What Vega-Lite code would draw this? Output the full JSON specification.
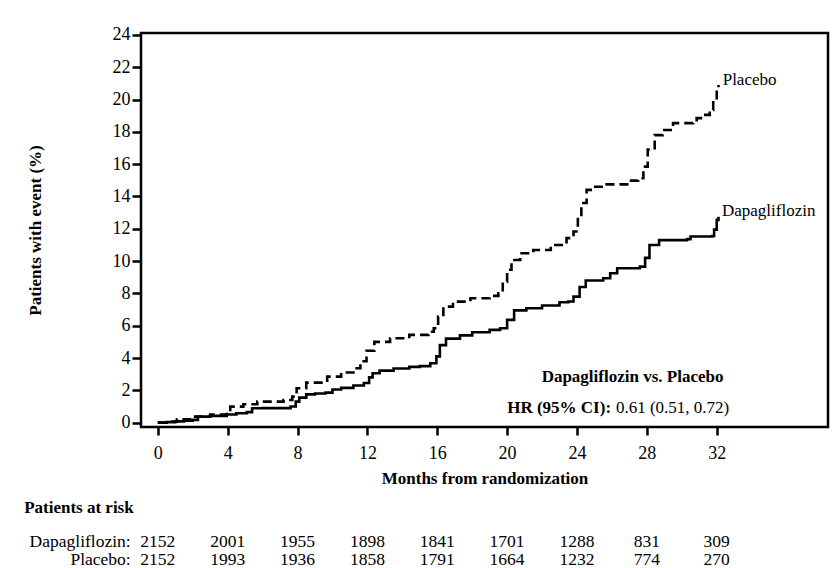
{
  "$schema": "https://vega.github.io/schema/vega-lite/v6.json",
  "width": 687,
  "height": 394,
  "autosize": {"type": "none"},
  "padding": {"left": 141, "top": 33, "right": 12, "bottom": 141},
  "background": "white",
  "config": {
    "view": {"stroke": "black", "strokeWidth": 2.5},
    "font": "Liberation Serif",
    "text": {"font": "Liberation Serif", "fontSize": 17, "color": "black"},
    "axis": {
      "grid": false, "domain": false, "tickColor": "black", "tickWidth": 2.5,
      "labelColor": "black", "labelFont": "Liberation Serif", "labelFontSize": 18, "labelOverlap": false,
      "titleFont": "Liberation Serif", "titleFontSize": 17, "titleColor": "black", "titleFontWeight": "bold"
    }
  },
  "datasets": {
    "curves": [
      {"group": "Dapagliflozin", "month": 0, "pct": 0},
      {"group": "Dapagliflozin", "month": 0.5, "pct": 0.03},
      {"group": "Dapagliflozin", "month": 1.0, "pct": 0.08},
      {"group": "Dapagliflozin", "month": 1.5, "pct": 0.12},
      {"group": "Dapagliflozin", "month": 2.0, "pct": 0.17},
      {"group": "Dapagliflozin", "month": 2.3, "pct": 0.37},
      {"group": "Dapagliflozin", "month": 3.0, "pct": 0.42},
      {"group": "Dapagliflozin", "month": 3.95, "pct": 0.5},
      {"group": "Dapagliflozin", "month": 4.5, "pct": 0.58},
      {"group": "Dapagliflozin", "month": 5.1, "pct": 0.65},
      {"group": "Dapagliflozin", "month": 5.4, "pct": 0.89},
      {"group": "Dapagliflozin", "month": 6.0, "pct": 0.9},
      {"group": "Dapagliflozin", "month": 7.0, "pct": 0.9},
      {"group": "Dapagliflozin", "month": 7.6, "pct": 1.0},
      {"group": "Dapagliflozin", "month": 7.9, "pct": 1.3},
      {"group": "Dapagliflozin", "month": 8.1, "pct": 1.55},
      {"group": "Dapagliflozin", "month": 8.5, "pct": 1.75},
      {"group": "Dapagliflozin", "month": 9.0, "pct": 1.8},
      {"group": "Dapagliflozin", "month": 9.6, "pct": 1.86},
      {"group": "Dapagliflozin", "month": 10.0, "pct": 2.05},
      {"group": "Dapagliflozin", "month": 10.5, "pct": 2.15},
      {"group": "Dapagliflozin", "month": 11.2, "pct": 2.3},
      {"group": "Dapagliflozin", "month": 11.8, "pct": 2.45},
      {"group": "Dapagliflozin", "month": 12.1, "pct": 2.8},
      {"group": "Dapagliflozin", "month": 12.3, "pct": 3.06},
      {"group": "Dapagliflozin", "month": 12.7, "pct": 3.22},
      {"group": "Dapagliflozin", "month": 13.5, "pct": 3.35},
      {"group": "Dapagliflozin", "month": 14.4, "pct": 3.45},
      {"group": "Dapagliflozin", "month": 15.0, "pct": 3.5},
      {"group": "Dapagliflozin", "month": 15.6, "pct": 3.68},
      {"group": "Dapagliflozin", "month": 15.95, "pct": 4.1},
      {"group": "Dapagliflozin", "month": 16.15, "pct": 4.8},
      {"group": "Dapagliflozin", "month": 16.5, "pct": 5.2},
      {"group": "Dapagliflozin", "month": 17.3, "pct": 5.4},
      {"group": "Dapagliflozin", "month": 18.0, "pct": 5.6},
      {"group": "Dapagliflozin", "month": 19.0, "pct": 5.74},
      {"group": "Dapagliflozin", "month": 19.6, "pct": 5.84},
      {"group": "Dapagliflozin", "month": 20.0, "pct": 6.36},
      {"group": "Dapagliflozin", "month": 20.4, "pct": 6.95},
      {"group": "Dapagliflozin", "month": 21.1, "pct": 7.08},
      {"group": "Dapagliflozin", "month": 22.0, "pct": 7.25},
      {"group": "Dapagliflozin", "month": 23.0, "pct": 7.45},
      {"group": "Dapagliflozin", "month": 23.5, "pct": 7.5},
      {"group": "Dapagliflozin", "month": 23.8, "pct": 7.8},
      {"group": "Dapagliflozin", "month": 24.15, "pct": 8.4},
      {"group": "Dapagliflozin", "month": 24.5, "pct": 8.8},
      {"group": "Dapagliflozin", "month": 25.5, "pct": 8.94},
      {"group": "Dapagliflozin", "month": 25.9, "pct": 9.25},
      {"group": "Dapagliflozin", "month": 26.3, "pct": 9.56},
      {"group": "Dapagliflozin", "month": 27.6, "pct": 9.66},
      {"group": "Dapagliflozin", "month": 27.9, "pct": 10.2},
      {"group": "Dapagliflozin", "month": 28.15, "pct": 11.0},
      {"group": "Dapagliflozin", "month": 28.7, "pct": 11.3},
      {"group": "Dapagliflozin", "month": 30.3, "pct": 11.36},
      {"group": "Dapagliflozin", "month": 30.5, "pct": 11.52},
      {"group": "Dapagliflozin", "month": 31.75, "pct": 11.55},
      {"group": "Dapagliflozin", "month": 31.85, "pct": 11.95},
      {"group": "Dapagliflozin", "month": 32.0, "pct": 12.55},
      {"group": "Dapagliflozin", "month": 32.1, "pct": 12.75},
      {"group": "Placebo", "month": 0, "pct": 0},
      {"group": "Placebo", "month": 0.5, "pct": 0.06},
      {"group": "Placebo", "month": 1.1, "pct": 0.21},
      {"group": "Placebo", "month": 2.0, "pct": 0.37},
      {"group": "Placebo", "month": 3.0, "pct": 0.5},
      {"group": "Placebo", "month": 3.95, "pct": 0.62},
      {"group": "Placebo", "month": 4.15, "pct": 0.99},
      {"group": "Placebo", "month": 4.9, "pct": 1.14},
      {"group": "Placebo", "month": 5.7, "pct": 1.3},
      {"group": "Placebo", "month": 7.2, "pct": 1.4},
      {"group": "Placebo", "month": 7.7, "pct": 1.61},
      {"group": "Placebo", "month": 7.95, "pct": 2.13},
      {"group": "Placebo", "month": 8.5, "pct": 2.48},
      {"group": "Placebo", "month": 9.7, "pct": 2.85},
      {"group": "Placebo", "month": 10.5, "pct": 3.1},
      {"group": "Placebo", "month": 11.2, "pct": 3.37},
      {"group": "Placebo", "month": 11.6, "pct": 3.8},
      {"group": "Placebo", "month": 11.95, "pct": 4.45},
      {"group": "Placebo", "month": 12.4, "pct": 5.0},
      {"group": "Placebo", "month": 13.3, "pct": 5.22},
      {"group": "Placebo", "month": 14.4, "pct": 5.43},
      {"group": "Placebo", "month": 15.5, "pct": 5.63},
      {"group": "Placebo", "month": 15.8, "pct": 5.84},
      {"group": "Placebo", "month": 16.05, "pct": 6.56},
      {"group": "Placebo", "month": 16.35, "pct": 7.18},
      {"group": "Placebo", "month": 16.9, "pct": 7.49},
      {"group": "Placebo", "month": 17.9, "pct": 7.7},
      {"group": "Placebo", "month": 19.0, "pct": 7.85},
      {"group": "Placebo", "month": 19.5, "pct": 8.01},
      {"group": "Placebo", "month": 19.75, "pct": 8.73},
      {"group": "Placebo", "month": 20.0, "pct": 9.46},
      {"group": "Placebo", "month": 20.25, "pct": 10.07},
      {"group": "Placebo", "month": 20.75, "pct": 10.49},
      {"group": "Placebo", "month": 21.5, "pct": 10.69},
      {"group": "Placebo", "month": 22.5, "pct": 11.0},
      {"group": "Placebo", "month": 23.4, "pct": 11.42},
      {"group": "Placebo", "month": 23.8, "pct": 11.83},
      {"group": "Placebo", "month": 24.05, "pct": 12.76},
      {"group": "Placebo", "month": 24.25, "pct": 13.6},
      {"group": "Placebo", "month": 24.55, "pct": 14.41},
      {"group": "Placebo", "month": 24.9, "pct": 14.6},
      {"group": "Placebo", "month": 25.7, "pct": 14.75},
      {"group": "Placebo", "month": 27.0, "pct": 14.98},
      {"group": "Placebo", "month": 27.5, "pct": 15.13},
      {"group": "Placebo", "month": 27.8, "pct": 15.85},
      {"group": "Placebo", "month": 28.05, "pct": 16.9},
      {"group": "Placebo", "month": 28.45, "pct": 17.8},
      {"group": "Placebo", "month": 28.9, "pct": 18.12},
      {"group": "Placebo", "month": 29.5, "pct": 18.54},
      {"group": "Placebo", "month": 30.65, "pct": 18.58},
      {"group": "Placebo", "month": 30.85, "pct": 18.85},
      {"group": "Placebo", "month": 31.2, "pct": 19.05},
      {"group": "Placebo", "month": 31.6, "pct": 19.36},
      {"group": "Placebo", "month": 31.8, "pct": 19.98},
      {"group": "Placebo", "month": 32.0, "pct": 20.6},
      {"group": "Placebo", "month": 32.1, "pct": 20.9}
    ],
    "risk": [
      {"group": "Dapagliflozin", "month": 0, "n": 2152},
      {"group": "Dapagliflozin", "month": 4, "n": 2001},
      {"group": "Dapagliflozin", "month": 8, "n": 1955},
      {"group": "Dapagliflozin", "month": 12, "n": 1898},
      {"group": "Dapagliflozin", "month": 16, "n": 1841},
      {"group": "Dapagliflozin", "month": 20, "n": 1701},
      {"group": "Dapagliflozin", "month": 24, "n": 1288},
      {"group": "Dapagliflozin", "month": 28, "n": 831},
      {"group": "Dapagliflozin", "month": 32, "n": 309},
      {"group": "Placebo", "month": 0, "n": 2152},
      {"group": "Placebo", "month": 4, "n": 1993},
      {"group": "Placebo", "month": 8, "n": 1936},
      {"group": "Placebo", "month": 12, "n": 1858},
      {"group": "Placebo", "month": 16, "n": 1791},
      {"group": "Placebo", "month": 20, "n": 1664},
      {"group": "Placebo", "month": 24, "n": 1232},
      {"group": "Placebo", "month": 28, "n": 774},
      {"group": "Placebo", "month": 32, "n": 270}
    ]
  },
  "layer": [
    {
      "data": {"name": "curves"},
      "mark": {"type": "line", "interpolate": "step-after", "color": "black", "strokeWidth": 2.6, "strokeCap": "butt"},
      "encoding": {
        "x": {
          "field": "month", "type": "quantitative",
          "scale": {"domain": [-0.96, 38.37], "nice": false, "zero": false},
          "axis": {"title": "Months from randomization", "values": [0, 4, 8, 12, 16, 20, 24, 28, 32], "tickCount": 9, "tickSize": 8, "labelPadding": 9, "titleY": 56, "titleBaseline": "alphabetic", "labelFlush": false}
        },
        "y": {
          "field": "pct", "type": "quantitative",
          "scale": {"domain": [-0.27, 24.12], "nice": false, "zero": false},
          "axis": {"title": "Patients with event (%)", "values": [0, 2, 4, 6, 8, 10, 12, 14, 16, 18, 20, 22, 24], "tickCount": 13, "tickSize": 9, "labelPadding": 2, "titleX": -106, "titleBaseline": "middle"}
        },
        "strokeDash": {
          "field": "group", "type": "nominal",
          "scale": {"domain": ["Dapagliflozin", "Placebo"], "range": [[1, 0], [9, 5]]},
          "legend": null
        }
      }
    },
    {
      "data": {"values": [{}]},
      "mark": {"type": "text", "text": "Placebo", "align": "left", "baseline": "alphabetic"},
      "encoding": {"x": {"datum": 32.34}, "y": {"datum": 20.9}}
    },
    {
      "data": {"values": [{}]},
      "mark": {"type": "text", "text": "Dapagliflozin", "align": "left", "baseline": "alphabetic"},
      "encoding": {"x": {"datum": 32.3}, "y": {"datum": 12.8}}
    },
    {
      "data": {"values": [{}]},
      "mark": {"type": "text", "text": "Dapagliflozin vs. Placebo", "align": "center", "baseline": "alphabetic", "fontWeight": "bold"},
      "encoding": {"x": {"datum": 27.18}, "y": {"datum": 2.54}}
    },
    {
      "data": {"values": [{}]},
      "mark": {"type": "text", "text": "HR (95% CI):", "align": "right", "baseline": "alphabetic", "fontWeight": "bold"},
      "encoding": {"x": {"datum": 25.95}, "y": {"datum": 0.62}}
    },
    {
      "data": {"values": [{}]},
      "mark": {"type": "text", "text": "0.61 (0.51, 0.72)", "align": "left", "baseline": "alphabetic"},
      "encoding": {"x": {"datum": 26.23}, "y": {"datum": 0.62}}
    },
    {
      "data": {"values": [{}]},
      "mark": {"type": "text", "text": "Patients at risk", "align": "left", "baseline": "alphabetic", "fontWeight": "bold"},
      "encoding": {"x": {"datum": -7.65}, "y": {"datum": -5.6}}
    },
    {
      "data": {"values": [{}]},
      "mark": {"type": "text", "text": "Dapagliflozin:", "align": "right", "baseline": "alphabetic", "fontSize": 17.5},
      "encoding": {"x": {"datum": -1.55}, "y": {"datum": -7.68}}
    },
    {
      "data": {"values": [{}]},
      "mark": {"type": "text", "text": "Placebo:", "align": "right", "baseline": "alphabetic", "fontSize": 17.5},
      "encoding": {"x": {"datum": -1.55}, "y": {"datum": -8.8}}
    },
    {
      "data": {"name": "risk"},
      "transform": [{"filter": "datum.group === 'Dapagliflozin'"}],
      "mark": {"type": "text", "align": "center", "baseline": "alphabetic", "fontSize": 17.5},
      "encoding": {"x": {"field": "month", "type": "quantitative"}, "y": {"datum": -7.68}, "text": {"field": "n", "type": "quantitative"}}
    },
    {
      "data": {"name": "risk"},
      "transform": [{"filter": "datum.group === 'Placebo'"}],
      "mark": {"type": "text", "align": "center", "baseline": "alphabetic", "fontSize": 17.5},
      "encoding": {"x": {"field": "month", "type": "quantitative"}, "y": {"datum": -8.8}, "text": {"field": "n", "type": "quantitative"}}
    }
  ]
}
